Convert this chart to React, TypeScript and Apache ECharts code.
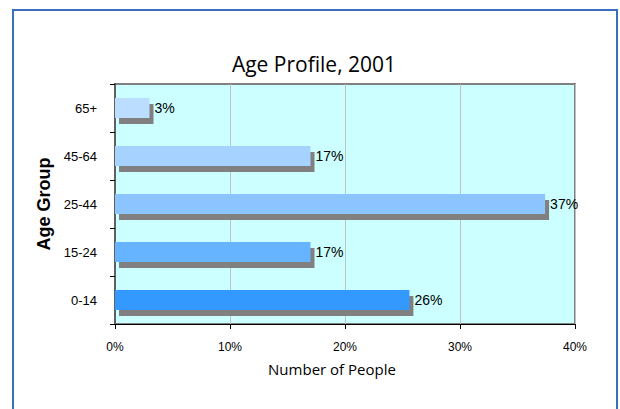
import React, { useEffect, useRef } from "react";
import * as echarts from "echarts";

const categories = ["0-14", "15-24", "25-44", "45-64", "65+"];
const values = [25.6, 17.0, 37.4, 17.0, 3.0];
const barColors = ["#3399ff", "#66b3ff", "#8cc4ff", "#a6d2ff", "#bbddff"];
const xTicks = [0, 10, 20, 30, 40];

export default function App() {
  const ref = useRef<HTMLDivElement>(null);
  useEffect(() => {
    if (!ref.current) return;
    const chart = echarts.init(ref.current, undefined, { renderer: "svg" });
    chart.setOption({
      animation: false,
      backgroundColor: "#ffffff",
      title: {
        text: "Age Profile, 2001",
        left: 309,
        textAlign: "center",
        top: 48,
        textStyle: { fontFamily: "Open Sans", fontWeight: "normal", fontSize: 21, color: "#000" },
      },
      graphic: [
        {
          type: "rect",
          shape: { x: 13, y: 10, width: 604, height: 410 },
          style: { fill: "none", stroke: "#3a6fbf", lineWidth: 2 },
          silent: true,
          z: 100,
        },
      ],
      grid: {
        left: 115,
        top: 84,
        width: 460,
        height: 240,
        show: true,
        backgroundColor: "#ccffff",
        borderColor: "#808080",
        borderWidth: 2,
      },
      xAxis: {
        type: "value",
        min: xTicks[0],
        max: xTicks[xTicks.length - 1],
        interval: 10,
        name: "Number of People",
        nameLocation: "middle",
        nameGap: 37,
        nameTextStyle: { fontFamily: "Open Sans", fontSize: 15, color: "#000", padding: [0, 0, 0, -26] },
        axisLine: { show: true, lineStyle: { color: "#000", width: 1 } },
        axisTick: { show: true, length: 5, lineStyle: { color: "#000" } },
        axisLabel: {
          formatter: (v: number) => v + "%",
          fontFamily: "Liberation Sans",
          fontSize: 12,
          color: "#000",
          margin: 17,
        },
        splitLine: { show: true, lineStyle: { color: "#c0c0c0", width: 1 } },
      },
      yAxis: {
        type: "category",
        data: categories,
        name: "Age Group",
        nameLocation: "middle",
        nameGap: 61,
        nameTextStyle: { fontFamily: "Liberation Sans", fontWeight: "bold", fontSize: 18, color: "#000" },
        axisLine: { show: true, lineStyle: { color: "#606060", width: 2 } },
        axisTick: { show: true, length: 5, lineStyle: { color: "#000" } },
        axisLabel: { fontFamily: "Liberation Sans", fontSize: 13, color: "#000", margin: 18 },
        splitLine: { show: false },
      },
      series: [
        {
          type: "custom",
          z: 1,
          silent: true,
          data: values.map((v, i) => [v, i]),
          encode: { x: 0, y: 1 },
          renderItem: (params: any, api: any) => {
            const v = api.value(0);
            const idx = api.value(1);
            const start = api.coord([0, idx]);
            const end = api.coord([v, idx]);
            const h = 20;
            return {
              type: "rect",
              shape: { x: start[0] + 4, y: start[1] - h / 2 + 6, width: end[0] - start[0], height: h },
              style: { fill: "#808080" },
            };
          },
        },
        {
          type: "bar",
          z: 2,
          barWidth: 20,
          data: values.map((v, i) => ({ value: v, itemStyle: { color: barColors[i] } })),
          label: {
            show: true,
            position: "right",
            distance: 5,
            formatter: (p: any) => Math.round(p.value) + "%",
            fontFamily: "Liberation Sans",
            fontSize: 14,
            color: "#000",
          },
        },
      ],
    });
    return () => chart.dispose();
  }, []);
  return (
    <div
      ref={ref}
      style={{ position: "fixed", left: 0, top: 0, width: 620, height: 409 }}
    />
  );
}
